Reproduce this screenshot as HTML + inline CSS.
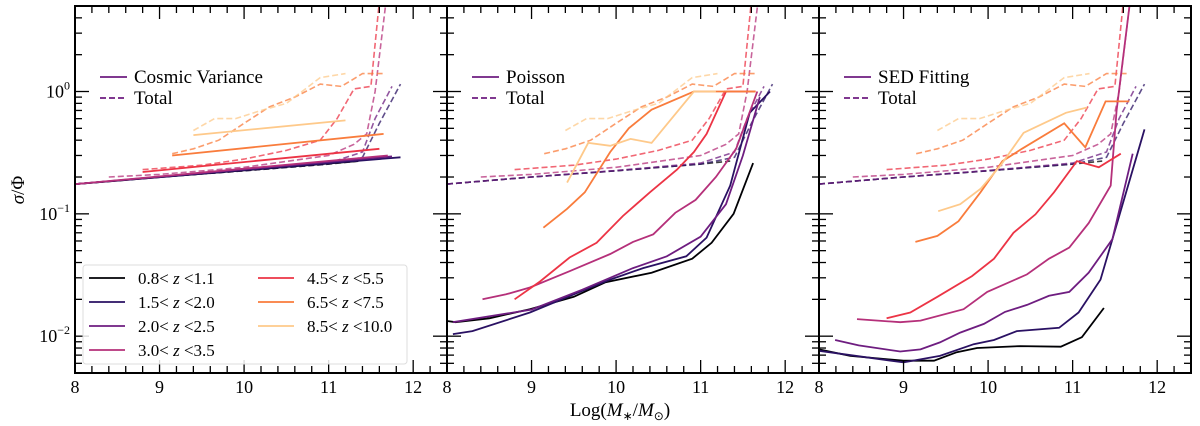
<!DOCTYPE html>
<html><head><meta charset="utf-8"><style>
body{margin:0;background:#fff;}
svg{display:block;font-family:"Liberation Serif",serif;}
</style></head><body>
<svg id="chart" width="1200" height="426" viewBox="0 0 1200 426" xmlns="http://www.w3.org/2000/svg"></svg>
<script>
// ---- data ----
const zLabels=["0.8< z <1.1","1.5< z <2.0","2.0< z <2.5","3.0< z <3.5","4.5< z <5.5","6.5< z <7.5","8.5< z <10.0"];
const colors=["#000004","#2a1163","#6e1d80","#b5307a","#ec3445","#f97c3c","#fec98a"];
const panelTitles=["Cosmic Variance","Poisson","SED Fitting"];
const xTicks=[8,9,10,11,12];
// totals (dashed, shared)
const totX=[
 [8,9,10,11,11.35],
 [8,9,10,11,11.4,11.6,11.85],
 [8,9,10,11,11.4,11.55,11.75],
 [8.4,9,10,11,11.3,11.45,11.55,11.68],
 [8.8,9.5,10,10.5,10.9,11.1,11.3,11.5,11.6],
 [9.15,9.4,9.7,10,10.3,10.6,10.9,11.15,11.4,11.65],
 [9.4,9.65,9.9,10.2,10.5,10.9,11.2]];
const totY=[
 [0.175,0.2,0.225,0.255,0.27],
 [0.175,0.2,0.225,0.255,0.29,0.55,1.15],
 [0.175,0.2,0.226,0.26,0.32,0.6,1.1],
 [0.2,0.21,0.24,0.3,0.37,0.45,1.0,5.5],
 [0.23,0.25,0.28,0.33,0.4,0.6,1.05,1.1,5.5],
 [0.31,0.34,0.40,0.55,0.75,0.9,1.15,1.1,1.4,1.4],
 [0.48,0.6,0.6,0.7,0.8,1.3,1.4]];
// cosmic variance (panel 1)
const cvX=[[8,11.35],[8,11.85],[8,11.75],[8,11.7],[8.8,11.6],[9.15,11.65],[9.4,11.2]];
const cvY=[[0.175,0.27],[0.175,0.29],[0.175,0.295],[0.175,0.3],[0.22,0.34],[0.30,0.45],[0.44,0.58]];
// poisson (panel 2)
const poX=[
 [8,8.1,8.5,8.98,9.5,9.87,10.42,10.9,11.13,11.39,11.62],
 [8.07,8.3,8.98,9.57,9.93,10.32,10.83,11.07,11.35,11.58,11.82],
 [8.07,9.0,9.6,10.2,10.6,11.0,11.3,11.5,11.7],
 [8.42,8.7,8.98,9.45,9.93,10.2,10.44,10.7,10.94,11.18,11.42,11.67],
 [8.8,9.1,9.45,9.77,10.08,10.4,10.72,10.92,11.07,11.3,11.65],
 [9.14,9.42,9.63,9.93,10.15,10.42,10.92,11.65],
 [9.42,9.67,9.93,10.17,10.42,10.92,11.18]];
const poY=[
 [0.0133,0.013,0.014,0.0166,0.021,0.0275,0.033,0.043,0.058,0.10,0.26],
 [0.0104,0.011,0.0156,0.023,0.029,0.036,0.045,0.064,0.17,0.67,1.0],
 [0.013,0.0165,0.024,0.036,0.045,0.065,0.12,0.3,0.9],
 [0.020,0.022,0.025,0.034,0.047,0.059,0.068,0.102,0.13,0.20,0.34,1.0],
 [0.020,0.028,0.044,0.058,0.096,0.15,0.23,0.32,0.45,1.0,1.0],
 [0.077,0.11,0.15,0.32,0.50,0.71,1.0,1.0],
 [0.18,0.38,0.36,0.41,0.38,1.0,1.0]];
// SED fitting (panel 3)
const sedX=[
 [8,8.37,9,9.36,9.63,9.87,10.38,10.86,11.11,11.37],
 [8,9,9.43,9.83,10.07,10.34,10.84,11.07,11.33,11.47,11.85],
 [8.19,8.47,8.96,9.2,9.43,9.67,9.95,10.2,10.46,10.72,10.96,11.19,11.47,11.71],
 [8.45,8.96,9.2,9.71,9.99,10.46,10.72,10.96,11.19,11.45,11.52,11.68],
 [8.8,9.08,9.4,9.81,10.07,10.3,10.56,10.78,11.05,11.31,11.57],
 [9.14,9.4,9.65,9.91,10.17,10.4,10.9,11.15,11.39,11.67],
 [9.41,9.67,9.91,10.15,10.42,10.92,11.17]];
const sedY=[
 [0.0078,0.0069,0.0063,0.0063,0.0074,0.0080,0.0083,0.0082,0.0098,0.017],
 [0.0076,0.0061,0.0069,0.0086,0.0093,0.011,0.0117,0.0156,0.029,0.062,0.49],
 [0.0093,0.0084,0.0075,0.0078,0.0089,0.0107,0.0126,0.0158,0.018,0.0214,0.023,0.033,0.062,0.31],
 [0.0138,0.0130,0.0134,0.0166,0.023,0.032,0.043,0.053,0.084,0.17,0.7,5.5],
 [0.014,0.0156,0.021,0.031,0.043,0.070,0.099,0.15,0.27,0.24,0.31],
 [0.059,0.066,0.087,0.15,0.27,0.34,0.55,0.35,0.83,0.83],
 [0.105,0.12,0.16,0.25,0.46,0.67,0.74]];

// ---- layout ----
const NS="http://www.w3.org/2000/svg";
const svg=document.getElementById('chart');
const panels=[{l:75,r:447},{l:447,r:819},{l:819,r:1191}];
const yTop=6,yBot=373,xMin=8,xMax=12.4,yMin=0.005,yMax=5;
function mk(tag,attrs,parent){const e=document.createElementNS(NS,tag);for(const k in attrs)e.setAttribute(k,attrs[k]);(parent||svg).appendChild(e);return e;}
function xs(p,v){return p.l+(v-xMin)/(xMax-xMin)*(p.r-p.l);}
function ys(v){const lv=Math.log10(Math.max(v,1e-9));return yBot-(lv-Math.log10(yMin))/(Math.log10(yMax)-Math.log10(yMin))*(yBot-yTop);}

const defs=mk('defs',{});
panels.forEach((p,i)=>{const cp=mk('clipPath',{id:'clip'+i},defs);mk('rect',{x:p.l,y:yTop,width:p.r-p.l,height:yBot-yTop},cp);});

function drawSeries(p,pi,X,Y,dashed,g,nm){
  X.forEach((xa,k)=>{
    const d=xa.map((x,j)=>(j?'L':'M')+xs(p,x).toFixed(1)+' '+ys(Y[k][j]).toFixed(1)).join(' ');
    const path=mk('path',{d:d,fill:'none',stroke:colors[k],'stroke-width':dashed?1.6:1.8,'clip-path':'url(#clip'+pi+')'},g);
    if(dashed){path.setAttribute('stroke-dasharray','6,3');path.setAttribute('opacity','0.75');}
    
    
  });
}

panels.forEach((p,pi)=>{
  const g=mk('g',{});
  
  
  drawSeries(p,pi,totX,totY,true,g,'total');
  if(pi===0)drawSeries(p,pi,cvX,cvY,false,g,'cosmic-variance');
  if(pi===1)drawSeries(p,pi,poX,poY,false,g,'poisson');
  if(pi===2)drawSeries(p,pi,sedX,sedY,false,g,'sed-fitting');
  const fr=mk('rect',{x:p.l,y:yTop,width:p.r-p.l,height:yBot-yTop,fill:'none',stroke:'#000','stroke-width':2},g);
  
  
  for(let i=0;i<=22;i++){
    const v=8+i*0.2;
    const x=xs(p,v),maj=i%5===0,L=maj?13:7;
    mk('line',{x1:x,x2:x,y1:yBot,y2:yBot-L,stroke:'#000','stroke-width':1.3},g);
    mk('line',{x1:x,x2:x,y1:yTop,y2:yTop+L,stroke:'#000','stroke-width':1.3},g);
  }
  xTicks.forEach(v=>{
    const t=mk('text',{x:xs(p,v),y:393,'text-anchor':'middle','font-size':18},g);t.textContent=v;
    
    
  });
  for(let e=-3;e<=0;e++){for(let m=1;m<=9;m++){const v=m*Math.pow(10,e);if(v<yMin||v>yMax)continue;
    const y=ys(v),L=m===1?14:7;
    mk('line',{x1:p.l,x2:p.l+L,y1:y,y2:y,stroke:'#000','stroke-width':1.3},g);
    mk('line',{x1:p.r,x2:p.r-L,y1:y,y2:y,stroke:'#000','stroke-width':1.3},g);}}
  const lg=mk('g',{},g);
  
  
  const lx=p.l+25;
  mk('line',{x1:lx,x2:lx+27,y1:77,y2:77,stroke:'#6e1d80','stroke-width':1.8},lg);
  mk('line',{x1:lx,x2:lx+27,y1:98,y2:98,stroke:'#6e1d80','stroke-width':1.8,'stroke-dasharray':'6,3'},lg);
  const t1=mk('text',{x:lx+34,y:83,'font-size':19},lg);t1.textContent=panelTitles[pi];
  const t2=mk('text',{x:lx+34,y:104,'font-size':19},lg);t2.textContent='Total';
});

[[0,'0'],[-1,'−1'],[-2,'−2']].forEach(([e,s])=>{
  const t=mk('text',{x:70,y:ys(Math.pow(10,e))+6,'text-anchor':'end','font-size':18});
  t.textContent='10';
  const sp=mk('tspan',{dy:-8,'font-size':12},t);sp.textContent=s;
  
  
});
const yt=mk('text',{x:24,y:190,'text-anchor':'middle','font-size':19,transform:'rotate(-90 24 190)'});
const ya=mk('tspan',{'font-style':'italic'},yt);ya.textContent='σ';
const yb=mk('tspan',{},yt);yb.textContent='/Φ';


const xt=mk('text',{x:620,y:416,'text-anchor':'middle','font-size':19});
[['Log(',{}],['M',{'font-style':'italic'}],['∗',{'font-size':12,dy:4}],['/',{dy:-4}],['M',{'font-style':'italic'}],['⊙',{'font-size':12,dy:4}],[')',{dy:-4}]].forEach(([s,a])=>{const ts=mk('tspan',a,xt);ts.textContent=s;});



const zl=mk('g',{});


mk('rect',{x:83,y:265,width:324,height:99,rx:3,fill:'#fff','fill-opacity':0.85,stroke:'#ddd','stroke-width':1},zl);
zLabels.forEach((lab,k)=>{
  const col=k<4?0:1,row=k<4?k:k-4;
  const x=col?258:89,y=278+row*24;
  mk('line',{x1:x,x2:x+36,y1:y,y2:y,stroke:colors[k],'stroke-width':1.8},zl);
  const t=mk('text',{x:x+49,y:y+6,'font-size':17},zl);
  const parts=lab.split(' z ');
  const a=mk('tspan',{},t);a.textContent=parts[0]+' ';
  const b=mk('tspan',{'font-style':'italic'},t);b.textContent='z';
  const c=mk('tspan',{},t);c.textContent=' '+parts[1];
  
  
});
</script>
</body></html>
